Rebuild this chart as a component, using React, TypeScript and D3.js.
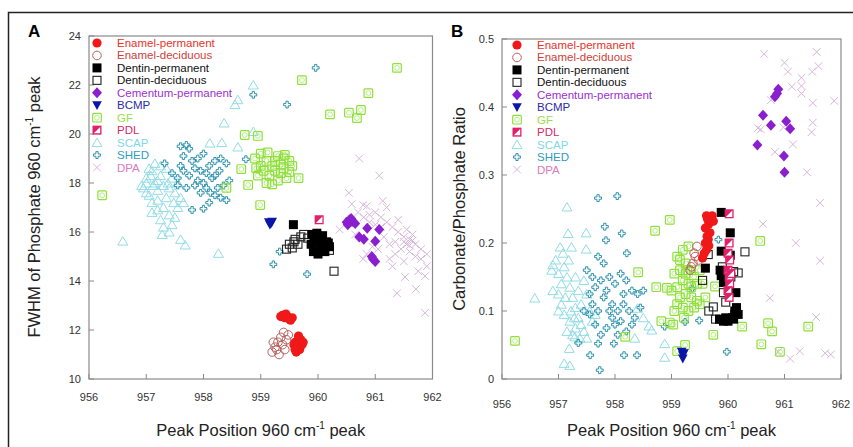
import React from 'react';
import * as d3 from 'd3';

const xTicks = [956, 957, 958, 959, 960, 961, 962];
const aYTicks = [10, 12, 14, 16, 18, 20, 22, 24];
const bYTicks = [0, 0.1, 0.2, 0.3, 0.4, 0.5];

const legendNames = ['Enamel-permanent', 'Enamel-deciduous', 'Dentin-permanent', 'Dentin-deciduous', 'Cementum-permanent', 'BCMP', 'GF', 'PDL', 'SCAP', 'SHED', 'DPA'];

// ---------- Panel A (peak position vs FWHM) ----------
const aEnamelPermanent = [[959.38,12.6],[959.42,12.5],[959.46,12.55],[959.5,12.45],[959.55,12.5],[959.35,12.55],[959.44,12.65],[959.52,12.4],[959.6,11.5],[959.65,11.3],[959.7,11.6],[959.62,11.1],[959.68,11.2],[959.72,11.4],[959.58,11.4],[959.66,11.75],[959.74,11.5],[959.6,11.2]];
const aEnamelDeciduous = [[959.2,11.1],[959.25,11.3],[959.3,11.5],[959.35,11.7],[959.4,11.9],[959.28,11.2],[959.38,11.4],[959.45,11.6],[959.22,11.5],[959.32,11.0],[959.42,11.2],[959.48,11.8]];
const aDentinPermanent = [[959.57,16.3],[959.9,15.9],[959.95,15.7],[960.0,15.8],[960.05,15.5],[960.1,15.3],[959.92,15.2],[960.0,15.1],[960.15,15.6],[960.2,15.4],[959.98,15.95],[960.08,15.85],[959.88,15.5],[960.03,15.35],[960.12,15.2],[960.18,15.55],[959.93,15.6],[960.06,15.65]];
const aDentinDeciduous = [[959.45,15.3],[959.5,15.5],[959.55,15.35],[959.6,15.7],[959.65,15.5],[959.7,15.8],[959.75,15.9],[959.58,15.6],[960.28,14.4],[960.2,15.25],[959.82,15.75]];
const aCementum = [[960.5,16.4],[960.55,16.5],[960.6,16.45],[960.65,16.35],[960.52,16.3],[960.58,16.55],[960.86,16.15],[961.07,16.1],[960.72,15.8],[960.8,15.7],[961.0,15.62],[960.94,15.0],[961.0,14.8],[960.96,14.9]];
const aBCMP = [[959.14,16.4],[959.18,16.35],[959.16,16.3],[959.2,16.42]];
const aGF = [[956.23,17.5],[959.72,22.2],[961.38,22.7],[960.88,21.67],[960.21,20.8],[960.54,20.87],[960.75,20.98],[960.68,20.65],[958.72,19.96],[958.95,19.92],[958.99,17.1],[959.66,18.2],[958.66,18.57],[958.78,17.92],[960.55,16.4],[958.4,17.8],
  [958.9,19.0],[959.0,19.2],[959.1,18.9],[959.2,18.7],[959.3,19.1],[959.4,19.0],[959.5,18.9],[959.55,18.7],[959.05,18.5],[959.15,18.3],[959.25,18.5],[959.35,18.4],[959.45,18.2],[958.95,18.3],[959.1,18.0],[959.2,17.95],[959.3,18.1],[959.4,18.6],[959.0,18.7],[959.5,18.45],[959.25,18.9],[959.12,19.25],[959.35,18.75],[958.92,18.6],[959.42,19.15]];
const aPDL = [[960.02,16.5]];
const aSCAP = [[956.59,15.63],[957.68,15.47],[957.6,15.7],[958.26,15.13],[958.87,22.0],[958.6,21.4],[958.55,21.2],[958.36,20.45],[958.11,19.63],[958.32,19.65],[958.6,19.47],[958.87,20.1],
  [956.95,17.8],[957.0,18.2],[957.05,17.5],[957.1,18.5],[957.15,18.0],[957.2,17.7],[957.25,18.3],[957.3,17.9],[957.1,17.2],[957.2,16.9],[957.25,16.5],[957.3,16.2],[957.4,16.0],[957.45,16.3],[957.5,16.6],[957.55,17.0],[957.35,17.4],[957.4,17.8],[957.45,18.2],[957.35,18.6],[957.15,18.8],[957.05,18.6],[957.0,17.6],[956.92,17.9],[957.6,17.4],[957.5,17.6],[957.3,17.0],[957.2,17.3],[957.1,16.8],[957.0,18.0],[957.25,18.7],[957.55,18.0],[957.65,17.2],[957.4,16.7],[957.28,15.9],[957.2,18.1],[957.12,17.9],[957.08,18.3],[957.38,18.0],[957.48,17.2]];
const aSHED = [[959.96,22.7],[958.87,21.6],[959.46,21.2],[959.33,15.2],[959.22,14.68],[959.81,14.28],[958.74,18.97],
  [957.32,18.8],[957.45,18.4],[957.55,18.2],[957.6,19.5],[957.7,19.55],[957.75,19.4],[957.65,19.1],[957.8,18.9],[957.9,19.0],[958.0,19.2],[958.1,18.7],[958.2,18.9],[958.3,19.0],[958.4,18.8],[958.45,18.1],[958.35,17.9],[958.2,17.5],[958.1,17.2],[958.0,16.95],[957.8,16.9],[957.95,17.6],[957.85,17.9],[957.75,18.3],[957.65,18.5],[958.05,17.8],[958.15,18.2],[958.25,17.8],[957.95,18.5],[957.85,18.6],[958.05,18.4],[957.55,17.9],[957.7,17.8],[958.3,17.4],[958.4,17.3],[958.2,18.3],[957.9,18.1],[958.0,18.0],[958.12,17.6],[957.6,18.7],[958.28,18.5]];
const aDPA = [[960.72,19.0],[961.07,18.3],[960.54,17.6],[960.59,17.14],[960.79,17.1],[960.85,17.05],[961.13,17.27],[960.38,16.1],[961.38,13.5],[961.71,13.67],[961.87,12.7],[961.87,14.2],[961.52,14.16],[960.79,14.9],
  [960.7,16.8],[960.8,16.6],[960.9,16.7],[961.0,16.8],[961.1,16.6],[961.2,16.4],[961.3,16.2],[961.4,16.0],[961.5,15.8],[961.6,15.7],[961.7,15.5],[961.8,15.3],[961.9,15.1],[961.55,15.5],[961.45,15.3],[961.35,15.1],[961.25,14.9],[961.6,15.2],[961.7,15.0],[961.5,14.8],[961.8,14.9],[961.65,15.9],[961.55,16.1],[961.15,15.8],[961.25,15.5],[961.35,15.6],[961.05,15.3],[960.95,15.4],[960.85,15.1],[961.1,16.2],[961.0,16.3],[961.9,14.6],[961.75,14.4],[961.5,15.6],[961.6,15.45],[961.65,15.65],[961.4,16.5],[961.2,17.0],[960.65,15.9],[960.9,16.4],[961.3,14.6]];

// ---------- Panel B (peak position vs carbonate/phosphate) ----------
const bEnamelPermanent = [[959.62,0.24],[959.7,0.235],[959.66,0.228],[959.74,0.232],[959.6,0.222],[959.68,0.215],[959.63,0.21],[959.65,0.205],[959.6,0.2],[959.66,0.196],[959.62,0.19],[959.55,0.178],[959.58,0.185],[959.72,0.24],[959.64,0.235]];
const bEnamelDeciduous = [[959.45,0.195],[959.42,0.18],[959.38,0.17],[959.35,0.165],[959.4,0.185],[959.48,0.175],[959.33,0.16]];
const bDentinPermanent = [[959.88,0.245],[960.04,0.215],[959.88,0.188],[960.04,0.182],[959.6,0.163],[959.86,0.16],[959.88,0.152],[959.92,0.142],[960.14,0.127],[959.85,0.088],[959.92,0.085],[960.0,0.085],[960.08,0.09],[960.12,0.095],[960.15,0.105],[960.18,0.095],[960.1,0.088],[960.12,0.1],[959.96,0.09]];
const bDentinDeciduous = [[959.65,0.183],[960.3,0.187],[960.18,0.156],[960.05,0.15],[959.92,0.127],[959.96,0.113],[959.74,0.106],[959.66,0.1],[959.78,0.088],[959.55,0.145],[959.9,0.165],[960.1,0.158]];
const bCementum = [[960.89,0.426],[960.83,0.415],[960.87,0.42],[960.62,0.388],[960.76,0.373],[961.03,0.379],[961.1,0.368],[960.52,0.344],[960.99,0.328],[961.0,0.304]];
const bBCMP = [[959.2,0.035],[959.18,0.04],[959.22,0.038],[959.2,0.03]];
const bGF = [[956.23,0.056],[958.97,0.234],[958.71,0.218],[958.41,0.157],[958.18,0.062],[958.73,0.135],[958.92,0.134],[958.82,0.085],[958.97,0.083],[959.03,0.08],[959.1,0.041],[959.24,0.05],[959.74,0.065],[960.25,0.077],[960.57,0.203],[960.59,0.051],[960.71,0.082],[960.78,0.07],[960.92,0.04],[961.42,0.077],[959.77,0.136],
  [959.1,0.18],[959.2,0.19],[959.3,0.195],[959.25,0.17],[959.15,0.16],[959.05,0.155],[959.35,0.16],[959.4,0.15],[959.45,0.14],[959.3,0.14],[959.2,0.145],[959.1,0.135],[959.0,0.13],[959.15,0.12],[959.25,0.125],[959.35,0.12],[959.45,0.115],[959.5,0.11],[959.4,0.105],[959.3,0.1],[959.2,0.105],[959.1,0.11],[959.05,0.1],[959.25,0.155],[959.35,0.135],[959.15,0.175],[959.55,0.14],[959.6,0.12],[959.5,0.16],[959.22,0.09],[959.28,0.16]];
const bPDL = [[960.02,0.243],[960.02,0.2],[960.0,0.185],[960.03,0.175],[960.0,0.16],[960.02,0.15],[960.03,0.14],[960.0,0.13],[960.02,0.12],[960.05,0.155]];
const bSCAP = [[957.15,0.253],[957.17,0.214],[957.49,0.215],[957.03,0.194],[957.23,0.194],[957.49,0.191],[956.58,0.119],[957.1,0.023],[957.2,0.02],[957.29,0.062],[957.19,0.045],[958.65,0.072],[958.6,0.078],[958.35,0.06],[958.88,0.032],[958.88,0.052],[958.4,0.104],[958.5,0.09],[956.9,0.168],[956.88,0.16],
  [956.95,0.175],[957.0,0.155],[957.05,0.14],[957.1,0.165],[957.15,0.15],[957.2,0.135],[957.25,0.12],[957.3,0.105],[957.35,0.09],[957.4,0.08],[957.45,0.07],[957.5,0.06],[957.3,0.075],[957.2,0.085],[957.1,0.095],[957.0,0.1],[957.05,0.11],[957.15,0.07],[957.25,0.065],[957.35,0.13],[957.45,0.145],[957.4,0.11],[957.55,0.1],[957.6,0.085],[957.5,0.125],[957.12,0.12],[957.22,0.1],[957.3,0.15],[957.18,0.175],[957.08,0.185],[957.65,0.095],[957.0,0.125],[956.9,0.13],[957.38,0.06],[957.28,0.09]];
const bSHED = [[957.7,0.266],[958.04,0.269],[957.82,0.224],[958.12,0.214],[957.84,0.204],[957.7,0.18],[958.21,0.185],[957.73,0.013],[957.56,0.035],[958.16,0.035],[958.39,0.035],[957.98,0.052],[957.7,0.052],[957.35,0.053],[959.83,0.205],[958.88,0.077],[959.24,0.084],[959.49,0.086],[959.98,0.04],[959.37,0.133],
  [957.5,0.16],[957.6,0.15],[957.55,0.125],[957.65,0.135],[957.75,0.145],[957.8,0.12],[957.85,0.13],[957.9,0.15],[958.0,0.14],[958.1,0.155],[958.2,0.145],[958.3,0.13],[958.4,0.125],[958.45,0.105],[958.35,0.09],[958.25,0.1],[958.15,0.11],[958.05,0.1],[957.95,0.11],[958.0,0.08],[958.1,0.085],[958.2,0.07],[958.05,0.065],[957.95,0.09],[957.85,0.075],[957.75,0.065],[957.65,0.08],[957.55,0.095],[957.45,0.1],[957.7,0.1],[958.15,0.125],[957.9,0.1],[958.3,0.08],[957.6,0.11],[958.5,0.13],[957.8,0.17]];
const bDPA = [[960.64,0.478],[961.57,0.481],[961.0,0.465],[961.6,0.46],[961.49,0.452],[961.06,0.452],[961.3,0.443],[961.3,0.431],[961.13,0.43],[961.3,0.42],[961.5,0.406],[961.88,0.409],[961.5,0.377],[961.48,0.363],[961.15,0.345],[960.83,0.334],[960.58,0.367],[961.4,0.304],[961.63,0.259],[960.62,0.228],[961.2,0.2],[961.63,0.174],[960.74,0.119],[961.56,0.091],[961.27,0.041],[961.1,0.03],[961.72,0.038],[961.82,0.036],[960.89,0.04],[960.76,0.41],[960.98,0.37],[960.53,0.369]];

type Kind = 'dot' | 'ring' | 'sq' | 'sqOpen' | 'diamond' | 'triDown' | 'gf' | 'pdl' | 'tri' | 'shed' | 'cross';

const kinds: Kind[] = ['dot', 'ring', 'sq', 'sqOpen', 'diamond', 'triDown', 'gf', 'pdl', 'tri', 'shed', 'cross'];
const markColors = ['#f01818', '#b86060', '#000000', '#222222', '#8a1fd0', '#0b15a8', '#8ee03a', '#e0206a', '#92dce6', '#2f93ad', '#d6b6da'];
const textColors = ['#e8322a', '#d0403a', '#111111', '#111111', '#9b30d0', '#2b2ba6', '#9bdd4a', '#d42a6a', '#80d8e8', '#2d9cc0', '#d77cc0'];

const crossPath = d3.symbol().type(d3.symbolCross).size(26)() as string;

function Marker({ kind, color, x, y }: { kind: Kind; color: string; x: number; y: number }) {
  const t = `translate(${x},${y})`;
  switch (kind) {
    case 'dot':
      return <circle cx={x} cy={y} r={4.6} fill={color} />;
    case 'ring':
      return <circle cx={x} cy={y} r={4.3} fill="none" stroke={color} strokeWidth={1} />;
    case 'sq':
      return <rect x={x - 4.5} y={y - 4.5} width={9} height={9} fill={color} />;
    case 'sqOpen':
      return <rect x={x - 4} y={y - 4} width={8} height={8} fill="none" stroke={color} strokeWidth={1.1} />;
    case 'diamond':
      return <path transform={t} d="M0,-5.5L5,0L0,5.5L-5,0Z" fill={color} />;
    case 'triDown':
      return <path transform={t} d="M-4.8,-4L4.8,-4L0,4.8Z" fill={color} />;
    case 'gf':
      return (
        <g transform={t}>
          <rect x={-4.3} y={-4.3} width={8.6} height={8.6} rx={1} fill="none" stroke={color} strokeWidth={1.2} />
          <circle r={2.4} fill="none" stroke={color} strokeWidth={0.6} />
        </g>
      );
    case 'pdl':
      return (
        <g transform={t}>
          <rect x={-4.5} y={-4.5} width={9} height={9} fill={color} />
          <path d="M3.2,-3.2L3.2,3.2L-3.2,3.2Z" fill="#ffffff" />
        </g>
      );
    case 'tri':
      return <path transform={t} d="M0,-4.5L5,4L-5,4Z" fill="none" stroke={color} strokeWidth={1} />;
    case 'shed':
      return (
        <g transform={t}>
          <path d={crossPath} fill="none" stroke={color} strokeWidth={1} strokeLinejoin="round" />
        </g>
      );
    case 'cross':
      return <path transform={t} d="M-3.8,-3.8L3.8,3.8M3.8,-3.8L-3.8,3.8" stroke={color} strokeWidth={1} fill="none" />;
  }
  return null;
}

// draw order (index into legend)
const drawOrder = [10, 8, 9, 6, 3, 2, 1, 0, 4, 5, 7];

const FONT = 'Liberation Sans, Arial, Helvetica, sans-serif';

interface PanelProps {
  letter: string;
  letterX: number;
  x0: number; x1: number; y0: number; y1: number;
  yDomain: [number, number];
  yTicks: number[];
  yFmt: (v: number) => string;
  series: number[][][];
  xTickY: number;
  legendMX: number;
  legendTX: number;
  legendY: number;
}

function Panel(p: PanelProps) {
  const x = d3.scaleLinear().domain([956, 962]).range([p.x0, p.x1]);
  const y = d3.scaleLinear().domain(p.yDomain).range([p.y1, p.y0]);
  const axisColor = '#8a8a8a';
  const cx = (p.x0 + p.x1) / 2;
  return (
    <g fontFamily={FONT}>
      <text x={p.letterX} y={37} fontSize={17} fontWeight="bold" fill="#000">{p.letter}</text>
      <rect x={p.x0} y={p.y0} width={p.x1 - p.x0} height={p.y1 - p.y0} fill="none" stroke={axisColor} strokeWidth={1.2} />
      {xTicks.map((t) => (
        <g key={'xt' + t}>
          <line x1={x(t)} x2={x(t)} y1={p.y1} y2={p.y1 - 5} stroke={axisColor} strokeWidth={1} />
          <text x={x(t)} y={p.xTickY} fontSize={11} fill="#333" textAnchor="middle">{t}</text>
        </g>
      ))}
      {p.yTicks.map((t) => (
        <g key={'yt' + t}>
          <line x1={p.x0} x2={p.x0 + 5} y1={y(t)} y2={y(t)} stroke={axisColor} strokeWidth={1} />
          <text x={p.x0 - 8} y={y(t) + 4} fontSize={11} fill="#333" textAnchor="end">{p.yFmt(t)}</text>
        </g>
      ))}
      {drawOrder.map((si) => (
        <g key={'s' + si}>
          {p.series[si].map((d, i) => (
            <Marker key={i} kind={kinds[si]} color={markColors[si]} x={x(d[0])} y={y(d[1])} />
          ))}
        </g>
      ))}
      {legendNames.map((name, i) => {
        const ly = p.legendY + i * 12.45;
        return (
          <g key={'lg' + i}>
            <Marker kind={kinds[i]} color={markColors[i]} x={p.legendMX} y={ly} />
            <text x={p.legendTX} y={ly + 4} fontSize={11.5} fill={textColors[i]}>{name}</text>
          </g>
        );
      })}
      <text x={cx} y={436} fontSize={16.5} textAnchor="middle" fill="#222">
        Peak Position 960 cm<tspan dy={-7} fontSize={10}>-1</tspan><tspan dy={7}> peak</tspan>
      </text>
    </g>
  );
}

export default function App() {
  const aSeries = [aEnamelPermanent, aEnamelDeciduous, aDentinPermanent, aDentinDeciduous, aCementum, aBCMP, aGF, aPDL, aSCAP, aSHED, aDPA];
  const bSeries = [bEnamelPermanent, bEnamelDeciduous, bDentinPermanent, bDentinDeciduous, bCementum, bBCMP, bGF, bPDL, bSCAP, bSHED, bDPA];
  return (
    <svg width={853} height={447} style={{ position: 'absolute', left: 0, top: 0, background: '#fff' }}>
      <rect x={0} y={0} width={853} height={447} fill="#fff" />
      <path d="M8.5,470V12.5H870" fill="none" stroke="#222" strokeWidth={1.5} />
      <Panel
        letter="A" letterX={28}
        x0={89} x1={432.5} y0={36} y1={379}
        yDomain={[10, 24]} yTicks={aYTicks} yFmt={(v) => String(v)}
        series={aSeries}
        xTickY={401}
        legendMX={97} legendTX={117} legendY={43}
      />
      <Panel
        letter="B" letterX={451}
        x0={502} x1={841} y0={39} y1={379}
        yDomain={[0, 0.5]} yTicks={bYTicks} yFmt={(v) => (v === 0 ? '0' : d3.format('.1f')(v))}
        series={bSeries}
        xTickY={408}
        legendMX={517} legendTX={537} legendY={45}
      />
      <text transform="translate(40,207) rotate(-90)" fontSize={16.5} textAnchor="middle" fill="#222" fontFamily={FONT}>
        FWHM of Phosphate 960 cm<tspan dy={-7} fontSize={10}>-1</tspan><tspan dy={7}> peak</tspan>
      </text>
      <text transform="translate(465,209) rotate(-90)" fontSize={16.5} textAnchor="middle" fill="#222" fontFamily={FONT}>
        Carbonate/Phosphate Ratio
      </text>
    </svg>
  );
}
